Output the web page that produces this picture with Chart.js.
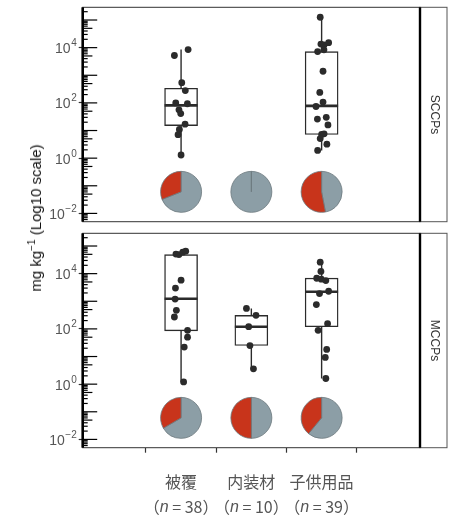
<!DOCTYPE html>
<html>
<head>
<meta charset="utf-8">
<script src="https://cdn.jsdelivr.net/npm/chart.js@4.4.1/dist/chart.umd.min.js"></script>
<style>
  body { margin: 0; background: #fff; }
  #wrap { position: relative; width: 454px; height: 518px; background: #fff; }
  canvas { position: absolute; left: 0; }
  #ytitle {
    position: absolute; left: 35px; top: 218px;
    transform: translate(-50%, -50%) rotate(-90deg);
    white-space: nowrap; color: #111;
    font: 15px 'Liberation Sans', Arial, sans-serif;
  }
  #ytitle sup { font-size: 10px; }
</style>
</head>
<body>
<div id="wrap">
  <canvas id="top" width="454" height="228" style="top:0"></canvas>
  <canvas id="bottom" width="454" height="290" style="top:228px"></canvas>
  <div id="ytitle">mg kg<sup>−1</sup> (Log10 scale)</div>
</div>
<script>
const categories = ['被覆', '内装材', '子供用品'];
const sampleSizes = [38, 10, 39];
const panelNames = ['SCCPs', 'MCCPs'];
const yTickExponents = [-2, 0, 2, 4];

// SCCPs, mg/kg per sample
const sccpCoating  = [5200, 8500, 540, 280, 100, 93, 56, 41, 17, 11, 7.1, 1.3];
const sccpInterior = [];
const sccpChild    = [126000, 13500, 12600, 15100, 7200, 8300, 1400, 240, 107, 74, 26, 30, 16, 7.2, 7.6, 5.1, 3.2, 1.9];
// MCCPs, mg/kg per sample
const mccpCoating  = [51000, 49000, 60000, 65000, 5800, 3000, 1200, 470, 270, 89, 50, 22, 1.2];
const mccpInterior = [550, 310, 120, 25, 3.6];
const mccpChild    = [26000, 12000, 6800, 6300, 5600, 1900, 2300, 760, 155, 89, 18, 9.3, 1.6];

// horizontal jitter of each dot (category units)
const sccpCoatingJit = [-0.095, 0.10, 0.01, 0.06, -0.076, 0.09, -0.03, -0.005, 0.057, -0.024, -0.043, 0];
const sccpChildJit   = [-0.02, -0.01, 0.035, 0.10, -0.057, 0.033, 0.02, -0.026, 0.02, -0.08, -0.06, 0.066, 0.09, 0, 0.035, -0.02, 0.075, -0.057];
const mccpCoatingJit = [-0.073, -0.03, 0.024, 0.066, 0, -0.08, -0.085, -0.067, -0.095, 0.092, 0.092, 0.045, 0.036];
const mccpInteriorJit = [-0.07, 0.066, -0.038, -0.02, 0.03];
const mccpChildJit   = [-0.02, -0.01, -0.07, -0.005, 0.06, -0.03, 0.1, -0.075, 0.085, -0.05, 0.072, 0.052, 0.06];

// boxes: [low whisker, q1, median, q3, high whisker]
const sccpBoxes = [[1.3, 15, 81, 340, 8500], null, [1.9, 7.2, 78, 7200, 126000]];
const mccpBoxes = [[1.2, 85, 1230, 49000, 65000], [3.6, 25, 120, 310, 550], [1.6, 120, 2200, 6900, 26000]];

// share of samples in the red slice of each pie
const sccpShare = [0.31, 0, 0.53];
const mccpShare = [0.334, 0.5, 0.39];

const lg = v => Math.log10(v);

const Y_MIN = -2.3, Y_MAX = 5.46;
const PIE_AT = -1.22, PIE_R = 20.5;
const RED = '#c8341b', GREY = '#8c9ea6', INK = '#2b2b2b';

const panelDecor = {
  id: 'panelDecor',
  afterDatasetsDraw(chart, args, opts) {
    const { ctx } = chart, xs = chart.scales.x, ys = chart.scales.y;
    ctx.save();
    ctx.strokeStyle = '#6c787d';
    ctx.lineWidth = 0.8;
    opts.shares.forEach((f, i) => {
      const cx = xs.getPixelForValue(i + 1), cy = ys.getPixelForValue(PIE_AT);
      const top = -Math.PI / 2, a = top - f * 2 * Math.PI;
      ctx.beginPath();
      ctx.moveTo(cx, cy);
      ctx.arc(cx, cy, PIE_R, top, a + 2 * Math.PI);
      ctx.closePath();
      ctx.fillStyle = GREY; ctx.fill(); ctx.stroke();
      if (f > 0) {
        ctx.beginPath();
        ctx.moveTo(cx, cy);
        ctx.arc(cx, cy, PIE_R, a, top);
        ctx.closePath();
        ctx.fillStyle = RED; ctx.fill(); ctx.stroke();
      }
    });
    ctx.restore();
  },
  afterDraw(chart, args, opts) {
    const { ctx, chartArea: a } = chart, ys = chart.scales.y, xs = chart.scales.x;
    ctx.save();
    // panel frame
    ctx.strokeStyle = '#333'; ctx.lineWidth = 1;
    ctx.strokeRect(a.left, a.top, a.right - a.left, a.bottom - a.top);
    // log ticks inside the left axis
    ctx.strokeStyle = '#000'; ctx.lineWidth = 1.2;
    for (let e = -3; e <= 5; e++) {
      for (let k = 1; k <= 9; k++) {
        const v = e + Math.log10(k);
        if (v < Y_MIN || v > Y_MAX) continue;
        const len = k === 1 ? 14.5 : k === 5 ? 9.7 : 5;
        const y = ys.getPixelForValue(v);
        ctx.beginPath(); ctx.moveTo(a.left, y); ctx.lineTo(a.left + len, y); ctx.stroke();
      }
    }
    ctx.lineWidth = 2.6;
    ctx.beginPath(); ctx.moveTo(a.left, a.top); ctx.lineTo(a.left, a.bottom); ctx.stroke();

    // y labels 10^e
    ctx.fillStyle = '#555';
    yTickExponents.forEach(e => {
      const y = ys.getPixelForValue(e), xr = a.left - 6;
      const ex = e < 0 ? '−' + Math.abs(e) : String(e);
      ctx.font = "10px 'Liberation Sans', Arial, sans-serif";
      ctx.textAlign = 'right'; ctx.textBaseline = 'alphabetic';
      const we = ctx.measureText(ex).width;
      ctx.fillText(ex, xr, y - 1.5);
      ctx.font = "14px 'Liberation Sans', Arial, sans-serif";
      ctx.textBaseline = 'middle';
      ctx.fillText('10', xr - we - 0.5, y + 1.5);
    });

    // strip
    const sx = a.right, sw = 27;
    ctx.strokeStyle = '#555'; ctx.lineWidth = 1;
    ctx.strokeRect(sx, a.top, sw, a.bottom - a.top);
    ctx.strokeStyle = '#000'; ctx.lineWidth = 2.4;
    ctx.beginPath(); ctx.moveTo(sx, a.top); ctx.lineTo(sx, a.bottom); ctx.stroke();
    ctx.translate(sx + sw / 2 + 1, (a.top + a.bottom) / 2);
    ctx.rotate(Math.PI / 2);
    ctx.fillStyle = '#333';
    ctx.font = "12px 'Liberation Sans', Arial, sans-serif";
    ctx.textAlign = 'center'; ctx.textBaseline = 'middle';
    ctx.fillText(opts.name, 0, 0);
    ctx.restore();

    if (!opts.xLabels) return;
    ctx.save();
    ctx.fillStyle = '#555'; ctx.textBaseline = 'middle';
    const cjk = "16px 'Noto Sans CJK JP', sans-serif";
    const it = "italic 16px 'Liberation Sans', sans-serif";
    categories.forEach((c, i) => {
      const cx = xs.getPixelForValue(i + 1);
      ctx.font = cjk; ctx.textAlign = 'center';
      ctx.fillText(c, cx, a.bottom + 34.5);
      const p1 = '（', p2 = ' = ' + sampleSizes[i] + '）';
      ctx.textAlign = 'left';
      const w1 = ctx.measureText(p1).width, w3 = ctx.measureText(p2).width;
      ctx.font = it; const w2 = ctx.measureText('n').width;
      let x = cx - (w1 + w2 + w3) / 2;
      const y = a.bottom + 59.5;
      ctx.font = cjk; ctx.fillText(p1, x, y); x += w1;
      ctx.font = it; ctx.fillText('n', x, y); x += w2;
      ctx.font = cjk; ctx.fillText(p2, x, y);
    });
    ctx.restore();
  }
};

function makePanel(id, name, groups, jitters, boxes, shares, showX, pad) {
  const dots = [];
  groups.forEach((vals, i) => vals.forEach((v, j) => dots.push({ x: i + 1 + jitters[i][j], y: lg(v) })));
  const bars = [], meds = [], whisk = [];
  boxes.forEach((b, i) => {
    if (!b) return;
    const x = i + 1;
    bars.push({ x, y: [lg(b[1]), lg(b[3])] });
    meds.push({ x, y: lg(b[2]) });
    whisk.push({ x, y: lg(b[0]) }, { x, y: lg(b[1]) }, { x, y: null },
               { x, y: lg(b[3]) }, { x, y: lg(b[4]) }, { x, y: null });
  });

  return new Chart(document.getElementById(id), {
    type: 'scatter',
    data: {
      datasets: [
        { type: 'scatter', data: dots, order: 0, pointRadius: 3.4, backgroundColor: INK, borderWidth: 0 },
        { type: 'scatter', data: meds, order: 1, pointStyle: 'line', pointRadius: 16.5, borderColor: INK, borderWidth: 2.6 },
        { type: 'bar', data: bars, order: 2, barThickness: 33, grouped: false, backgroundColor: '#fff',
          borderColor: INK, borderWidth: 1.4, borderSkipped: false },
        { type: 'line', data: whisk, order: 3, borderColor: INK, borderWidth: 1.4, pointRadius: 0, spanGaps: false }
      ]
    },
    options: {
      responsive: false,
      animation: false,
      events: [],
      layout: { padding: pad, autoPadding: false },
      plugins: { legend: { display: false }, tooltip: { enabled: false }, panelDecor: { name, shares, xLabels: showX } },
      scales: {
        x: {
          type: 'linear', min: 0.4, max: 3.6, display: showX,
          afterBuildTicks: s => { s.ticks = [1, 2, 3].map(v => ({ value: v })); },
          afterFit: s => { if (showX) s.height = 70.3; },
          ticks: { display: false },
          grid: { drawOnChartArea: false, tickLength: 5, tickColor: '#333', tickWidth: 1.2 },
          border: { display: false }
        },
        y: {
          type: 'linear', min: Y_MIN, max: Y_MAX,
          afterBuildTicks: s => { s.ticks = yTickExponents.map(v => ({ value: v })); },
          afterFit: s => { s.width = 82.7; },
          ticks: { display: false },
          grid: { drawOnChartArea: false, tickLength: 4, tickColor: '#333', tickWidth: 1.2 },
          border: { display: false }
        }
      }
    },
    plugins: [panelDecor]
  });
}

makePanel('top', panelNames[0], [sccpCoating, sccpInterior, sccpChild],
  [sccpCoatingJit, [], sccpChildJit], sccpBoxes, sccpShare, false,
  { top: 7.3, bottom: 6.3, left: 0, right: 34 });
makePanel('bottom', panelNames[1], [mccpCoating, mccpInterior, mccpChild],
  [mccpCoatingJit, mccpInteriorJit, mccpChildJit], mccpBoxes, mccpShare, true,
  { top: 5.3, bottom: 0, left: 0, right: 34 });
</script>
</body>
</html>
